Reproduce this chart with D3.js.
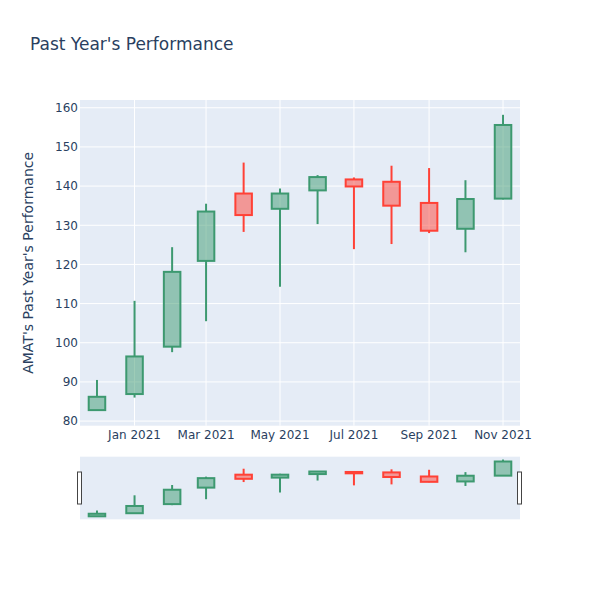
<!DOCTYPE html>
<html>
<head>
<meta charset="utf-8">
<script src="https://cdn.jsdelivr.net/npm/d3@7"></script>
<style>
  body { margin: 0; background: #fff; }
  text { font-family: "DejaVu Sans", Verdana, sans-serif; fill: #2a3f5f; }
</style>
</head>
<body>
<div id="chart"></div>
<script>
/* Monthly candles */
const dates = ["2020-12-01", "2021-01-01", "2021-02-01", "2021-03-01", "2021-04-01", "2021-05-01",
               "2021-06-01", "2021-07-01", "2021-08-01", "2021-09-01", "2021-10-01", "2021-11-01"];
const opens  = [82.8, 86.9, 99.0, 120.9, 138.1, 134.2, 138.9, 141.7, 141.1, 135.7, 129.1, 136.8];
const highs  = [90.5, 110.7, 124.4, 135.5, 146.0, 139.4, 142.8, 142.2, 145.2, 144.6, 141.5, 158.2];
const lows   = [82.6, 86.0, 97.6, 105.5, 128.3, 114.3, 130.3, 123.9, 125.2, 128.0, 123.1, 136.6];
const closes = [86.2, 96.5, 118.1, 133.5, 132.6, 138.1, 142.3, 139.9, 135.0, 128.6, 136.7, 155.6];

const titleText = "Past Year's Performance";
const yTitle = "AMAT's Past Year's Performance";

/* Constants */
const W = 600, H = 600;
const left = 80, right = 520;
const mainTop = 100, mainBottom = 425.7;
const sliderTop = 456.7, sliderBottom = 519.3;
const incColor = "#3D9970", decColor = "#FF4136";

const parse = d3.utcParse("%Y-%m-%d");
const data = dates.map((d, i) => ({
    date: parse(d), open: opens[i], high: highs[i], low: lows[i], close: closes[i]
}));

/* x range padded by half a (short) month on each side */
const x = d3.scaleUtc()
    .domain([d3.utcDay.offset(data[0].date, -14), d3.utcDay.offset(data[data.length - 1].date, 14)])
    .range([left, right]);

const lo = d3.min(lows), hi = d3.max(highs);
const pad = (hi - lo) * 0.05;
const y = d3.scaleLinear().domain([lo - pad, hi + pad]).range([mainBottom, mainTop]);
const ys = d3.scaleLinear().domain([lo - pad, hi + pad]).range([sliderBottom, sliderTop]);

const svg = d3.select("#chart").append("svg")
    .attr("width", W).attr("height", H);

/* Title */
svg.append("text")
    .attr("x", 30).attr("y", 50)
    .style("font-size", "17px")
    .text(titleText);

/* Plot background */
svg.append("rect")
    .attr("x", left).attr("y", mainTop)
    .attr("width", right - left).attr("height", mainBottom - mainTop)
    .attr("fill", "#E5ECF6");

/* Grid */
const yTicks = d3.range(80, 161, 10);
svg.append("g").selectAll("line").data(yTicks).enter().append("line")
    .attr("x1", left).attr("x2", right)
    .attr("y1", d => y(d)).attr("y2", d => y(d))
    .attr("stroke", "#fff").attr("stroke-width", 1);

const xTicks = d3.utcMonth.every(2).range(x.domain()[0], x.domain()[1]).filter(d => d.getUTCMonth() % 2 === 0);
svg.append("g").selectAll("line").data(xTicks).enter().append("line")
    .attr("x1", d => x(d)).attr("x2", d => x(d))
    .attr("y1", mainTop).attr("y2", mainBottom)
    .attr("stroke", "#fff").attr("stroke-width", 1);

/* Tick labels */
svg.append("g").selectAll("text").data(yTicks).enter().append("text")
    .attr("x", 78).attr("y", d => y(d)).attr("dy", "0.36em")
    .attr("text-anchor", "end")
    .style("font-size", "12px")
    .text(d => d);

const fmt = d3.utcFormat("%b %Y");
svg.append("g").selectAll("text").data(xTicks).enter().append("text")
    .attr("x", d => x(d)).attr("y", 439)
    .attr("text-anchor", "middle")
    .style("font-size", "12px")
    .text(d => fmt(d));

/* Y axis title */
svg.append("text")
    .attr("transform", "translate(33," + ((mainTop + mainBottom) / 2) + ") rotate(-90)")
    .attr("text-anchor", "middle")
    .style("font-size", "14px")
    .text(yTitle);

/* Candles, drawn for the main plot and again for the range slider */
const halfW = (x(data[1].date) - x(data[0].date)) * 0.22;

function drawCandles(g, yScale) {
    const c = g.selectAll("g.candle").data(data).enter().append("g")
        .attr("class", "candle");
    const col = d => d.close >= d.open ? incColor : decColor;
    // upper wick
    c.append("line")
        .attr("x1", d => x(d.date)).attr("x2", d => x(d.date))
        .attr("y1", d => yScale(d.high)).attr("y2", d => yScale(Math.max(d.open, d.close)))
        .attr("stroke", col).attr("stroke-width", 2);
    // lower wick
    c.append("line")
        .attr("x1", d => x(d.date)).attr("x2", d => x(d.date))
        .attr("y1", d => yScale(Math.min(d.open, d.close))).attr("y2", d => yScale(d.low))
        .attr("stroke", col).attr("stroke-width", 2);
    // body
    c.append("rect")
        .attr("x", d => x(d.date) - halfW)
        .attr("width", halfW * 2)
        .attr("y", d => yScale(Math.max(d.open, d.close)))
        .attr("height", d => Math.max(0.5, Math.abs(yScale(d.open) - yScale(d.close))))
        .attr("fill", col).attr("fill-opacity", 0.5)
        .attr("stroke", col).attr("stroke-width", 2);
}

const main = svg.append("g");
drawCandles(main, y);

/* Range slider */
svg.append("rect")
    .attr("x", left).attr("y", sliderTop)
    .attr("width", right - left).attr("height", sliderBottom - sliderTop)
    .attr("fill", "#E5ECF6");

const slider = svg.append("g");
drawCandles(slider, ys);

const midS = (sliderTop + sliderBottom) / 2;
[left, right].forEach(px => {
    svg.append("rect")
        .attr("x", px - 2.5).attr("y", midS - 16)
        .attr("width", 4).attr("height", 32)
        .attr("fill", "#fff").attr("stroke", "#444").attr("stroke-width", 1);
});
</script>
</body>
</html>
